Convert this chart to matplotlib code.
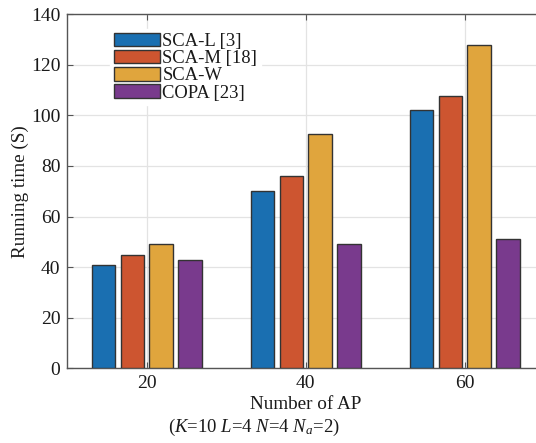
import numpy as np
import matplotlib.pyplot as plt

# dati
ap_labels = ["20", "40", "60"]
methods = ["SCA-L [3]", "SCA-M [18]", "SCA-W", "COPA [23]"]
sca_l = [40.7, 70.2, 102.0]
sca_m = [44.8, 76.2, 107.5]
sca_w = [49.0, 92.8, 127.8]
copa = [43.0, 49.0, 51.2]

colors = ["#1a6fb1", "#cd5530", "#e0a53d", "#793a8d"]

plt.rcParams["font.family"] = ["Liberation Serif", "DejaVu Serif"]
plt.rcParams["mathtext.fontset"] = "custom"
plt.rcParams["mathtext.rm"] = "Liberation Serif"
plt.rcParams["mathtext.it"] = "Liberation Serif:italic"

fig = plt.figure(figsize=(5.36, 4.43), dpi=100)
# l'asse continua oltre il bordo destro come nell'originale
ax = fig.add_axes([0.1255, 0.1686, 0.89, 0.7996])

x = np.arange(1, len(ap_labels) + 1)
width = 0.148
pitch = 0.1816
series = [sca_l, sca_m, sca_w, copa]
for i, (vals, name) in enumerate(zip(series, methods)):
    ax.bar(x + (i - 1.5) * pitch, vals, width, color=colors[i],
           edgecolor="#333333", linewidth=1.0, label=name, zorder=3)

ax.set_xlim(0.5, 3.5)
ax.set_ylim(0, 140)
ax.set_yticks(np.arange(0, 141, 20))
ax.set_xticks(x)
ax.set_xticklabels(ap_labels)
ax.tick_params(direction="in", labelsize=14, colors="#555555",
               labelcolor="#1a1a1a", top=True, length=4, pad=5)
ax.grid(True, color="#e3e3e3", linewidth=0.9, zorder=0)
ax.set_axisbelow(True)
for s in ax.spines.values():
    s.set_color("#555555")
    s.set_linewidth(1.0)

ax.set_ylabel("Running time (S)", fontsize=13.8, color="#1a1a1a", labelpad=1)
ax.set_xlabel("Number of AP", fontsize=13.8, color="#1a1a1a", labelpad=3)
fig.text(0.474, 0.036,
         r"($\mathit{K}$=10 $\mathit{L}$=4 $\mathit{N}$=4 $\mathit{N_a}$=2)",
         ha="center", va="center", fontsize=13.5, color="#1a1a1a")

leg = ax.legend(loc="upper left", bbox_to_anchor=(0.09, 0.957), fontsize=13.4,
                frameon=True, fancybox=False, edgecolor="white",
                framealpha=1.0, handlelength=2.5, handleheight=0.72,
                labelspacing=0.0, handletextpad=0.1, borderpad=0.2,
                borderaxespad=0)
for t in leg.get_texts():
    t.set_color("#1a1a1a")

plt.savefig("out.png", dpi=100)
